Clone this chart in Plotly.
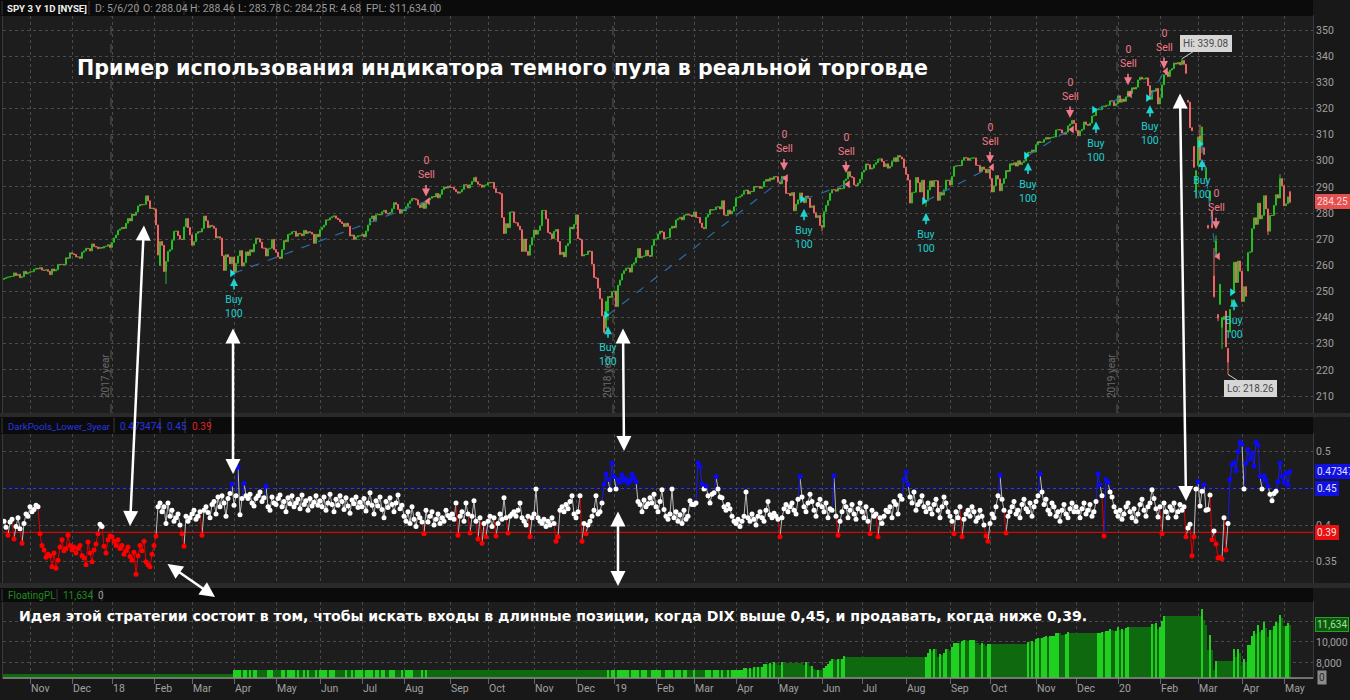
import numpy as np
import pandas as pd
import plotly.graph_objects as go

# ---------------- data ----------------
HOLIDAYS = ['2017-11-23', '2017-12-25', '2018-01-01', '2018-01-15', '2018-02-19', '2018-03-30',
            '2018-05-28', '2018-07-04', '2018-09-03', '2018-11-22', '2018-12-05', '2018-12-25',
            '2019-01-01', '2019-01-21', '2019-02-18', '2019-04-19', '2019-05-27', '2019-07-04',
            '2019-09-02', '2019-11-28', '2019-12-25', '2020-01-01', '2020-01-20', '2020-02-17',
            '2020-04-10']
FIRST_OPEN = 254.60

CLOSES = [
    254.95, 255.29, 255.47, 255.72, 255.79, 257.11, 256.11, 256.56, 255.29, 255.62, 257.71, 256.75, 257.15,
    257.49, 257.59, 258.45, 258.85, 258.67, 259.11, 258.17, 258.09, 258.33, 257.73, 256.44, 258.62, 257.86, 258.30, 260.36, 260.23, 260.36, 260.23, 262.87, 262.71, 264.82,
    264.42, 264.14, 263.19, 263.24, 262.71, 265.01, 265.51, 266.51, 266.38, 265.52, 268.20, 267.17, 267.03, 266.39, 266.86, 266.61, 267.19, 267.32, 267.87, 266.86,
    268.77, 270.47, 271.61, 273.42, 273.92, 274.54, 274.12, 276.12, 277.92, 276.97, 279.61, 279.14, 280.41, 282.69, 283.29, 283.18, 283.30, 286.58, 284.68, 281.76, 281.90,
    281.58, 275.45, 263.93, 269.13, 267.67, 257.63, 261.50, 265.34, 266.00, 269.59, 273.03, 273.11, 271.40, 270.05, 269.87, 274.71, 277.90, 274.43, 271.65,
    267.70, 269.08, 272.19, 272.88, 272.78, 274.10, 278.87, 277.04, 274.39, 275.30, 275.00, 274.20, 270.49, 270.95, 270.43, 263.67, 258.05, 264.08, 263.20, 260.60, 263.15,
    257.47, 260.77, 263.56, 265.64, 259.72, 261.00, 265.15, 263.76, 265.93, 265.15, 268.19, 270.39, 270.19, 268.89, 266.61, 266.57, 263.56, 266.31, 266.56, 269.92, 266.02,
    264.98, 263.20, 262.62, 266.02, 269.50, 269.04, 271.85, 272.02, 272.85, 272.98, 271.10, 272.24, 272.01, 271.33, 273.37, 272.15, 272.88, 272.61, 271.95, 268.41, 271.88, 270.94,
    273.60, 274.58, 275.40, 277.38, 277.37, 278.19, 278.56, 278.92, 278.03, 277.56, 276.65, 275.98, 274.83, 276.12, 274.96, 271.26, 271.61, 269.88, 270.89, 271.28, 271.30,
    271.86, 270.90, 273.11, 275.42, 277.90, 278.90, 276.86, 279.37, 279.59, 279.34, 280.47, 281.06, 279.93, 279.68, 280.20, 281.61, 284.01, 283.34, 281.42, 279.95, 281.33,
    280.86, 282.39, 283.60, 284.64, 285.58, 285.46, 285.07, 283.16, 282.10, 283.90, 281.78, 284.06, 285.06, 285.67, 286.34, 286.17, 287.51, 285.83, 287.15, 288.99, 289.99, 289.57, 290.31,
    289.84, 289.81, 289.03, 288.16, 287.60, 288.10, 289.05, 290.88, 290.75, 289.58, 290.90, 292.11, 293.58, 291.99, 291.02, 290.75, 289.88, 290.69, 290.72,
    291.73, 291.56, 291.72, 289.44, 287.82, 287.82, 287.40, 278.30, 272.17, 275.95, 274.40, 280.40, 280.45, 276.40, 276.25, 275.01, 273.61, 265.32, 270.08, 265.33, 263.86, 267.77, 270.63,
    273.51, 271.89, 273.39, 275.12, 281.01, 281.01, 277.76, 272.57, 272.06, 270.20, 273.02, 273.73, 269.10, 264.12, 265.02, 263.25, 267.50, 268.40, 274.58, 273.98, 275.65,
    279.30, 270.25, 269.84, 263.57, 264.07, 264.13, 265.46, 265.37, 260.47, 255.36, 255.08, 251.26, 247.17, 240.70, 234.34, 246.18, 248.07, 247.75, 249.92,
    250.18, 244.21, 252.39, 254.38, 256.77, 257.97, 258.88, 258.98, 257.40, 260.35, 260.98, 262.96, 266.46, 262.86, 263.41, 263.55, 265.78, 263.76, 263.41, 267.58, 269.93,
    270.06, 271.96, 273.10, 272.74, 270.14, 270.47, 270.62, 274.10, 274.99, 274.38, 277.37, 277.85, 278.41, 277.42, 279.14, 279.52, 279.32, 279.20, 278.68,
    280.42, 278.36, 278.27, 276.18, 274.46, 274.01, 278.44, 279.49, 281.34, 281.16, 281.31, 282.33, 282.40, 281.55, 284.73, 279.25, 279.04, 281.12, 279.65, 280.71, 282.48,
    285.83, 285.97, 286.42, 287.18, 288.57, 288.79, 287.31, 288.29, 288.21, 290.16, 289.97, 290.16, 289.45, 290.02, 292.10, 292.88, 292.23, 293.41, 292.91, 294.02, 293.87,
    291.81, 291.18, 294.03, 292.82, 287.53, 287.51, 286.66, 287.85, 280.86, 283.40, 285.06, 287.70, 285.84, 283.95, 286.51, 285.63, 282.14, 282.78, 280.15, 278.27, 279.03, 275.27,
    274.57, 280.53, 282.96, 284.80, 287.65, 288.97, 288.90, 288.39, 289.58, 289.26, 289.37, 292.40, 293.06, 295.86, 294.00, 293.64, 290.76, 290.47, 291.50, 293.00,
    295.66, 296.43, 298.80, 298.46, 296.82, 297.19, 298.61, 299.31, 300.65, 300.75, 299.71, 297.74, 298.83, 297.17, 297.90, 299.73, 301.18, 299.69, 302.01, 301.46, 300.72, 297.43,
    294.84, 292.62, 283.82, 287.80, 287.97, 293.62, 291.62, 288.07, 292.55, 283.90, 284.65, 288.85, 292.33, 290.09, 292.45, 292.36, 284.85, 288.00, 286.87, 288.89, 292.58, 292.45,
    290.74, 294.04, 297.82, 298.05, 298.20, 298.13, 300.25, 301.29, 301.09, 300.16, 300.93, 301.08, 301.10, 298.28, 298.21, 295.87, 297.62, 296.77, 295.40, 296.77,
    293.24, 288.06, 290.42, 294.35, 293.08, 288.53, 291.27, 293.24, 296.28, 295.95, 298.88, 298.40, 299.28, 297.97, 299.99, 298.58, 299.33, 299.88, 301.60, 303.30, 303.21, 304.14, 303.33,
    306.14, 307.37, 307.03, 307.10, 308.18, 308.94, 308.35, 308.83, 309.00, 309.10, 311.79, 311.91, 311.81, 310.60, 310.14, 310.96, 313.37, 314.08, 315.48, 314.31,
    311.64, 309.55, 311.46, 312.02, 314.87, 313.88, 313.53, 314.42, 317.13, 317.32, 319.50, 319.57, 319.59, 320.90, 320.73, 321.22, 321.23, 322.94, 322.86, 321.08, 321.86,
    324.87, 322.41, 323.64, 322.73, 324.45, 326.65, 325.71, 327.95, 327.45, 328.19, 330.92, 331.95, 331.30, 331.34, 331.72, 328.77, 323.50, 326.89, 326.62, 327.68, 321.73,
    324.12, 329.06, 332.86, 333.98, 332.20, 334.68, 335.26, 337.42, 337.06, 337.60, 336.73, 338.34, 336.95, 333.48, 322.42, 312.65, 311.50, 297.51, 296.26,
    309.09, 300.24, 312.86, 302.46, 297.46, 274.23, 288.42, 274.36, 248.11, 269.32, 239.85, 252.80, 240.00, 240.51, 228.80, 222.95, 243.15, 246.79, 261.20, 253.42, 261.65, 257.75,
    246.15, 251.83, 248.19, 264.86, 265.13, 274.03, 278.20, 275.66, 283.79, 277.76, 279.10, 286.64, 281.59, 273.04, 279.10, 279.08, 282.97, 287.05, 285.73, 293.21, 290.48,
    282.79, 283.57, 286.19, 284.25,
]

# opens that gapped away from the previous close
OPEN_MARKS = {'2018-02-06': 259.94, '2018-12-26': 235.97, '2018-12-27': 242.57, '2020-02-24': 323.14,
              '2020-02-27': 305.46, '2020-02-28': 288.70, '2020-03-02': 298.21, '2020-03-03': 309.50,
              '2020-03-04': 306.12, '2020-03-05': 304.98, '2020-03-06': 293.15, '2020-03-09': 275.30,
              '2020-03-10': 284.64, '2020-03-11': 280.70, '2020-03-12': 255.94, '2020-03-13': 263.09,
              '2020-03-16': 241.18, '2020-03-17': 245.04, '2020-03-18': 236.25, '2020-03-19': 239.25,
              '2020-03-20': 242.53, '2020-03-23': 228.19, '2020-03-24': 234.42, '2020-03-25': 244.87,
              '2020-03-26': 249.52, '2020-04-06': 257.84, '2020-05-06': 288.04}
HIGH_MARKS = {'2018-01-26': 286.63, '2018-09-21': 293.94, '2019-07-26': 302.23, '2020-02-19': 339.08,
              '2020-03-04': 313.10, '2020-03-13': 271.48, '2020-04-29': 294.88, '2020-03-10': 288.52,
              '2020-03-12': 266.66, '2020-03-03': 313.84, '2020-05-06': 288.46}
LOW_MARKS = {'2018-02-09': 252.92, '2018-12-24': 234.27, '2018-12-27': 238.96, '2019-06-03': 273.00,
             '2019-08-15': 282.40, '2020-03-04': 303.00, '2020-03-12': 247.68, '2020-03-16': 238.60,
             '2020-03-18': 228.02, '2020-03-23': 218.26, '2020-04-21': 271.60, '2020-02-28': 285.54,
             '2020-05-06': 283.78}

# DIX (dark index), in thousandths
DIX_MILLI = [
    405, 397, 386, 404, 408, 381, 398, 410, 395, 375, 402, 415, 412,
    425, 418, 421, 427, 425, 388, 372, 366, 356, 360, 358, 343, 362, 341, 352, 370, 380, 365, 368, 386, 372,
    366, 370, 362, 368, 372, 358, 355, 346, 377, 362, 350, 366, 374, 388, 401, 398, 371, 362, 380, 385,
    384, 378, 372, 380, 368, 372, 360, 365, 370, 357, 352, 363, 333, 358, 372, 365, 378, 350, 346, 343, 360,
    372, 385, 425, 430, 418, 425, 402, 430, 412, 420, 405, 410, 415, 400, 388, 371, 412, 405, 410,
    415, 420, 408, 412, 418, 386, 420, 425, 417, 410, 428, 432, 415, 438, 425, 440, 430, 412, 436, 443, 456,
    427, 440, 479, 414, 436, 457, 440, 436, 442, 430, 426, 436, 440, 445, 432, 437, 453, 425, 420, 438, 430,
    428, 436, 441, 425, 432, 418, 437, 429, 440, 425, 430, 435, 422, 441, 428, 433, 420, 436, 426, 431, 440, 427,
    433, 425, 438, 420, 430, 442, 428, 418, 435, 427, 440, 432, 421, 437, 426, 416, 434, 429, 438, 424, 431,
    425, 436, 419, 430, 444, 427, 415, 433, 426, 438, 421, 410, 432, 424, 437, 428, 418, 430, 441, 422, 427,
    412, 405, 418, 402, 425, 408, 398, 415, 410, 404, 388, 420, 404, 412, 418, 400, 408, 415, 402, 410, 405, 420, 413,
    410, 415, 408, 430, 386, 412, 418, 405, 430, 415, 389, 412, 433, 405, 381, 410, 375, 402, 384,
    405, 412, 398, 410, 385, 402, 415, 408, 437, 410, 389, 412, 415, 418, 412, 420, 430, 410, 405, 400, 412, 384, 410,
    415, 449, 410, 405, 402, 408, 398, 405, 400, 410, 402, 378, 384, 420, 425, 418, 428, 422, 432, 440, 415,
    410, 418, 440, 378, 402, 388, 400, 405, 412, 420, 440, 415, 418, 430, 456, 470, 462, 448, 484,
    466, 449, 462, 458, 468, 461, 463, 457, 460, 469, 464, 459, 432, 428, 418, 434, 425, 429, 437, 430, 442,
    425, 418, 432, 448, 421, 412, 408, 415, 449, 410, 418, 405, 414, 402, 420, 408, 412, 433, 428,
    428, 430, 485, 479, 456, 449, 453, 440, 430, 442, 444, 466, 449, 438, 437, 425, 420, 428, 422, 412, 405,
    402, 408, 398, 405, 412, 445, 410, 405, 415, 408, 400, 412, 418, 410, 405, 420, 432, 414, 410, 416, 412,
    408, 384, 410, 422, 428, 418, 425, 430, 420, 415, 435, 466, 438, 425, 418, 430, 442, 432, 420, 412, 428, 435,
    425, 418, 430, 410, 422, 420, 467, 412, 386, 405, 418, 432, 425, 410, 420, 428, 415, 408, 422, 430,
    418, 410, 425, 405, 388, 420, 412, 415, 384, 410, 402, 412, 420, 418, 425, 410, 432, 428, 415, 440, 435, 462,
    472, 455, 438, 430, 445, 420, 428, 432, 440, 425, 418, 430, 422, 415, 428, 435, 420, 410, 425, 438, 430, 418,
    412, 405, 388, 418, 410, 425, 384, 408, 415, 420, 412, 425, 418, 405, 410, 420, 412, 400, 385, 378,
    402, 415, 410, 425, 440, 468, 435, 420, 389, 412, 418, 425, 432, 415, 420, 410, 428, 435, 422, 418, 430, 412, 425,
    432, 440, 470, 445, 428, 435, 420, 415, 430, 425, 412, 418, 405, 420, 428, 415, 410, 422, 430, 418,
    425, 418, 410, 422, 430, 415, 420, 428, 412, 418, 432, 470, 455, 440, 385, 462, 458, 445, 438, 425, 418,
    412, 420, 408, 415, 425, 430, 418, 410, 422, 405, 415, 428, 435, 420, 412, 425, 430, 448, 436, 422, 411,
    425, 388, 430, 418, 410, 425, 420, 430, 411, 418, 428, 420, 425, 384, 396, 401, 358, 384, 449,
    459, 426, 446, 455, 420, 421, 441, 380, 392, 374, 355, 356, 354, 410, 366, 402, 462, 482, 485, 474, 500, 513,
    510, 449, 484, 503, 490, 497, 480, 513, 509, 466, 449, 467, 461, 453, 442, 433, 443, 446, 459, 484, 466,
    458, 471, 455, 473,
]
DIX_UPPER, DIX_LOWER = 0.45, 0.39
DIX_LAST_LABEL = '0.47347'

# trades: (buy date, buy price, sell date, sell price)
TRADES = [
    ('2018-04-02', 257.0, '2018-08-16', 284.5),
    ('2018-12-27', 241.0, '2019-05-06', 293.4),
    ('2019-05-20', 285.3, '2019-06-19', 291.0),
    ('2019-08-15', 284.6, '2019-10-01', 297.5),
    ('2019-10-28', 302.0, '2019-11-26', 312.0),
    ('2019-12-16', 319.5, '2020-01-09', 325.5),
    ('2020-01-27', 324.0, '2020-02-05', 334.2),
    ('2020-03-04', 306.4, '2020-03-13', 263.5),
    ('2020-03-26', 249.71, None, None),
]
SHARES = 100

PRICE_TICKS = list(range(210, 351, 10))
DIX_TICKS = [0.35, 0.4, 0.45, 0.5]
DIX_TICK_TEXT = ['0.35', '0.4', '', '0.5']
FPL_TICKS = [8000, 10000, 12000]
FPL_TICK_TEXT = ['8,000', '10,000', '']

# ---------------- geometry helpers ----------------
W, H = 1350, 700
PL, PR = 3, 1313


def px_x(p):
    return (p - PL) / (PR - PL)


def px_y(p):
    return 1 - p / H


dates = pd.bdate_range('2017-10-13', '2020-05-06')
dates = dates[~dates.isin(pd.to_datetime(HOLIDAYS))]
n = min(len(dates), len(CLOSES), len(DIX_MILLI))
dates = dates[:n]
closes = np.array(CLOSES[:n])
k = np.arange(n)
pos = {d.strftime('%Y-%m-%d'): i for i, d in enumerate(dates)}

opens = np.concatenate([[FIRST_OPEN], closes[:-1]])
for d, v in OPEN_MARKS.items():
    if d in pos:
        opens[pos[d]] = v
highs = np.maximum(opens, closes)
lows = np.minimum(opens, closes)
for d, v in HIGH_MARKS.items():
    if d in pos:
        highs[pos[d]] = max(highs[pos[d]], v)
for d, v in LOW_MARKS.items():
    if d in pos:
        lows[pos[d]] = min(lows[pos[d]], v)

dix = np.array(DIX_MILLI[:n]) / 1000.0

# floating P/L from trades
buys = {pos[b]: bp for b, bp, s, sp in TRADES}
sells = {pos[s]: sp for b, bp, s, sp in TRADES if s}
fpl = np.zeros(n)
realized, entry = 0.0, None
for i in range(n):
    if i in buys:
        entry = buys[i]
    if i in sells and entry is not None:
        realized += (sells[i] - entry) * SHARES
        entry = None
    fpl[i] = realized + ((closes[i] - entry) * SHARES if entry is not None else 0.0)

FPL_MIN, FPL_MAX = 6570, 13810
unit = (678 - 602) / (FPL_MAX - FPL_MIN)
fpl_disp = np.where(fpl >= FPL_MIN + 8 / unit, fpl,
                    np.where(fpl > 0, FPL_MIN + 8 / unit, FPL_MIN + 4 / unit))
fpl_col = ['#0f6a0f'] + ['#20d020' if fpl[i] > fpl[i - 1] else '#0f6a0f' for i in range(1, n)]

# month ticks
month_k, month_lbl = [], []
for i in range(1, n):
    if dates[i].month != dates[i - 1].month:
        month_k.append(i)
        month_lbl.append(dates[i].strftime('%y') if dates[i].month == 1 else dates[i].strftime('%b'))

# ---------------- colours ----------------
BG = '#1d1d1d'
PAPER = '#181818'
GRID = '#4a4a4a'
TICK = '#a0a0a0'
UP = '#22c022'
DOWN = '#f06464'
CYAN = '#1fd0d0'
PINK = '#f07a8a'

fig = go.Figure()

# price
fig.add_trace(go.Candlestick(
    x=k, open=opens, high=highs, low=lows, close=closes, xaxis='x', yaxis='y',
    increasing=dict(line=dict(color=UP, width=1), fillcolor=BG),
    decreasing=dict(line=dict(color=DOWN, width=1), fillcolor=DOWN),
    whiskerwidth=0, hoverinfo='skip', showlegend=False))

# trade connection lines and fill markers
for b, bp, s, sp in TRADES:
    if s:
        fig.add_trace(go.Scatter(x=[pos[b], pos[s]], y=[bp, sp], mode='lines', xaxis='x', yaxis='y',
                                 line=dict(color='#2b6ca8', width=1.2, dash='dash'), hoverinfo='skip',
                                 showlegend=False))
fig.add_trace(go.Scatter(x=[pos[b] - 1 for b, bp, s, sp in TRADES], y=[bp for b, bp, s, sp in TRADES],
                         mode='markers', xaxis='x', yaxis='y', hoverinfo='skip', showlegend=False,
                         marker=dict(symbol='triangle-right', size=7, color='#19e3e3')))
fig.add_trace(go.Scatter(x=[pos[s] + 1 for b, bp, s, sp in TRADES if s], y=[sp for b, bp, s, sp in TRADES if s],
                         mode='markers', xaxis='x', yaxis='y', hoverinfo='skip', showlegend=False,
                         marker=dict(symbol='triangle-left', size=7, color=PINK)))

# DIX
cls = np.where(dix > DIX_UPPER, 'b', np.where(dix < DIX_LOWER, 'r', 'w'))
line_cols = {'w': '#bdbdbd', 'r': '#e00000', 'b': '#1a1ae6'}
dot_cols = {'w': '#ffffff', 'r': '#ff0000', 'b': '#0a0af5'}
for c in ['w', 'r', 'b']:
    xs, ys = [], []
    for i in range(1, n):
        if cls[i] == c:
            xs += [k[i - 1], k[i], None]
            ys += [dix[i - 1], dix[i], None]
    fig.add_trace(go.Scatter(x=xs, y=ys, mode='lines', xaxis='x2', yaxis='y2', hoverinfo='skip',
                             line=dict(color=line_cols[c], width=1), showlegend=False))
fig.add_trace(go.Scatter(x=k, y=dix, mode='markers', xaxis='x2', yaxis='y2', hoverinfo='skip', showlegend=False,
                         marker=dict(size=5, color=[dot_cols[c] for c in cls], line=dict(width=0))))

# Floating PL
fig.add_trace(go.Bar(x=k, y=fpl_disp, xaxis='x3', yaxis='y3', marker=dict(color=fpl_col, line=dict(width=0)),
                     hoverinfo='skip', showlegend=False))

# ---------------- axes ----------------
xcommon = dict(range=[-0.5, 654.5], tickvals=month_k, ticktext=month_lbl, showgrid=True, gridcolor=GRID,
               griddash='dot', gridwidth=1, zeroline=False, showline=True, linecolor='#3a3a3a', mirror=True,
               automargin=False, fixedrange=True)
fig.update_layout(
    xaxis=dict(xcommon, domain=[0, 1], anchor='y', showticklabels=False, ticks='', rangeslider=dict(visible=False)),
    xaxis2=dict(xcommon, domain=[0, 1], anchor='y2', matches='x', showticklabels=False, ticks=''),
    xaxis3=dict(xcommon, domain=[0, 1], anchor='y3', matches='x', showticklabels=True, ticks='outside',
                ticklen=5, tickcolor='#666666', ticklabelposition='outside right',
                tickfont=dict(color=TICK, size=10.5, family='Roboto')),
    yaxis=dict(domain=[px_y(413), px_y(16)], anchor='x', side='right', range=[203.5, 355.4], tickvals=PRICE_TICKS,
               showgrid=True, gridcolor=GRID, griddash='dot', zeroline=False, showline=True, linecolor='#3a3a3a',
               mirror=True, ticks='', tickfont=dict(color=TICK, size=10.5, family='Roboto'), automargin=False),
    yaxis2=dict(domain=[px_y(583), px_y(434)], anchor='x2', side='right', range=[0.321, 0.524], tickvals=DIX_TICKS,
                ticktext=DIX_TICK_TEXT, showgrid=True, gridcolor=GRID, griddash='dot', zeroline=False,
                showline=True, linecolor='#3a3a3a', mirror=True, ticks='',
                tickfont=dict(color=TICK, size=10.5, family='Roboto'), automargin=False),
    yaxis3=dict(domain=[px_y(678), px_y(602)], anchor='x3', side='right', range=[FPL_MIN, FPL_MAX],
                tickvals=FPL_TICKS, ticktext=FPL_TICK_TEXT, showgrid=True, gridcolor=GRID, griddash='dot',
                zeroline=False, showline=True, linecolor='#3a3a3a', mirror=True, ticks='',
                tickfont=dict(color=TICK, size=10.5, family='Roboto'), automargin=False),
    width=W, height=H, margin=dict(l=PL, r=W - PR, t=0, b=0), autosize=False,
    paper_bgcolor=PAPER, plot_bgcolor=BG, bargap=0, template='none', showlegend=False,
    font=dict(family='Roboto', color=TICK),
)

# ---------------- shapes ----------------
shapes = []


def band(y0, y1, color, x0=0, x1=W):
    shapes.append(dict(type='rect', xref='paper', yref='paper', x0=px_x(x0), x1=px_x(x1), y0=px_y(y1),
                       y1=px_y(y0), fillcolor=color, line=dict(width=0), layer='above'))


band(0, 16, '#0b0b0b', 0, PR)
band(413, 417, '#2a2a2a')
band(417, 434, '#0b0b0b', 0, PR)
band(583, 588, '#2a2a2a')
band(588, 602, '#0b0b0b', 0, PR)


def vsep(xp, y0, y1):
    shapes.append(dict(type='line', xref='paper', yref='paper', x0=px_x(xp), x1=px_x(xp), y0=px_y(y0),
                       y1=px_y(y1), line=dict(color='#3a3a3a', width=1), layer='above'))


for xp in [2, 89, 137, 184, 232, 277, 323, 360, 435]:
    vsep(xp, 1, 15)
for xp in [2, 114, 160, 185, 210]:
    vsep(xp, 418, 433)
for xp in [2, 57, 92, 102]:
    vsep(xp, 589, 601)

# year separators
for d in ['2018-01-02', '2019-01-02', '2020-01-02']:
    shapes.append(dict(type='line', xref='x', yref='y domain', x0=pos[d] - 0.5, x1=pos[d] - 0.5, y0=0, y1=1,
                       line=dict(color='#5a5a5a', width=1, dash='dash'), layer='below'))
# DIX thresholds
for v, c in [(DIX_UPPER, '#0000ff'), (DIX_LOWER, '#ff0000')]:
    shapes.append(dict(type='line', xref='x2 domain', yref='y2', x0=0, x1=1, y0=v, y1=v,
                       line=dict(color=c, width=1), layer='below'))
# zero plot of FloatingPL pinned at bottom
shapes.append(dict(type='line', xref='paper', yref='paper', x0=0, x1=1, y0=px_y(678), y1=px_y(678),
                   line=dict(color='#8a8a8a', width=1.5), layer='above'))
fig.update_layout(shapes=shapes)

# ---------------- annotations ----------------
ann = []


def text_px(t, xp, yp, size=10.5, color=TICK, anchor='left', family='Roboto'):
    ann.append(dict(text=t, x=px_x(xp), y=px_y(yp), xref='paper', yref='paper', xanchor=anchor, yanchor='middle',
                    showarrow=False, font=dict(size=size, color=color, family=family)))


text_px('<b>SPY 3 Y 1D [NYSE]</b>', 5, 8, 9.6, '#f0f0f0')
for t, xp in [('D: 5/6/20', 93), ('O: 288.04', 141), ('H: 288.46', 188), ('L: 283.78', 236),
              ('C: 284.25', 281), ('R: 4.68', 327), ('FPL: $11,634.00', 364)]:
    text_px(t, xp, 8, 10.5, '#9a9a9a')
text_px('DarkPools_Lower_3year', 6, 426, 9.6, '#2a36e0')
text_px('0.473474', 118, 426, 10, '#2a36e0')
text_px('0.45', 165, 426, 10, '#2a36e0')
text_px('0.39', 190, 426, 10, '#e02020')
text_px('FloatingPL', 6, 595, 10, '#1f8a1f')
text_px('11,634', 61, 595, 10, '#1f8a1f')
text_px('0', 96, 595, 10, '#9a9a9a')

# titles
text_px('<b>Пример использования индикатора темного пула в реальной торговде</b>', 75, 68, 20.6, '#ffffff',
        family='DejaVu Sans')
text_px('<b>Идея этой стратегии состоит в том, чтобы искать входы в длинные позиции, когда DIX выше 0,45, '
        'и продавать, когда ниже 0,39.</b>', 17, 616, 14.1, '#ffffff', family='DejaVu Sans')

# year labels
for d, t in [('2018-01-02', '2017 year'), ('2019-01-02', '2018 year'), ('2020-01-02', '2019 year')]:
    ann.append(dict(text=t, x=pos[d] - 0.5, y=px_y(376), xref='x', yref='paper', xshift=-6, textangle=-90,
                    showarrow=False, font=dict(size=10, color='#6a6a6a', family='Roboto')))

# buy / sell markers
for b, bp, s, sp in TRADES:
    i = pos[b]
    ann.append(dict(x=i, y=lows[i], xref='x', yref='y', text='', showarrow=True, ax=0, ay=13, yshift=-6,
                    arrowhead=2, arrowsize=1, arrowwidth=1.6, arrowcolor=CYAN))
    ann.append(dict(x=i, y=lows[i], xref='x', yref='y', text='Buy<br>100', showarrow=False, yanchor='top',
                    yshift=-19, font=dict(size=10.5, color=CYAN, family='Roboto')))
    if s:
        j = pos[s]
        ann.append(dict(x=j, y=highs[j], xref='x', yref='y', text='', showarrow=True, ax=0, ay=-13, yshift=6,
                        arrowhead=2, arrowsize=1, arrowwidth=1.6, arrowcolor=PINK))
        ann.append(dict(x=j, y=highs[j], xref='x', yref='y', text='0<br>Sell', showarrow=False, yanchor='bottom',
                        yshift=19, font=dict(size=10.5, color=PINK, family='Roboto')))

# Hi / Lo callouts
ih = int(np.argmax(highs))
il = int(np.argmin(lows))
ann.append(dict(x=ih, y=highs[ih], xref='x', yref='y', text='Hi: %.2f' % highs[ih], showarrow=True, ax=24, ay=-15,
                arrowhead=0, arrowwidth=1, arrowcolor='#cfcfcf', bgcolor='#d6d6d6', bordercolor='#d6d6d6',
                borderpad=2, font=dict(size=10, color='#4a4a4a', family='Roboto')))
ann.append(dict(x=il, y=lows[il], xref='x', yref='y', text='Lo: %.2f' % lows[il], showarrow=True, ax=22, ay=14,
                arrowhead=0, arrowwidth=1, arrowcolor='#cfcfcf', bgcolor='#d6d6d6', bordercolor='#d6d6d6',
                borderpad=2, font=dict(size=10, color='#4a4a4a', family='Roboto')))


# right-side value tags
def tag(t, yv, yref, bg, fg, border=None):
    ann.append(dict(text=t, x=1, y=yv, xref='paper', yref=yref, xanchor='left', yanchor='middle', xshift=2,
                    showarrow=False, bgcolor=bg, bordercolor=border or bg, borderpad=1,
                    font=dict(size=10, color=fg, family='Roboto')))


tag('%.2f' % closes[-1], closes[-1], 'y', '#e2504f', '#ffd9d9')
tag(DIX_LAST_LABEL, dix[-1], 'y2', '#1010e0', '#e0e0ff')
tag('0.45', DIX_UPPER, 'y2', '#1010e0', '#e0e0ff')
tag('0.39', DIX_LOWER, 'y2', '#e81010', '#ffe0e0')
tag('{:,.0f}'.format(fpl[-1]), fpl_disp[-1], 'y3', '#0d5a0d', '#9fe09f', '#2aa02a')
ann.append(dict(text='0', x=1, y=px_y(677), xref='paper', yref='paper', xanchor='left', yanchor='middle', xshift=4,
                showarrow=False, bgcolor='#8c8c8c', borderpad=1, font=dict(size=10, color='#2a2a2a')))


# hand-drawn white arrows (pixel positions on the screenshot)
def white_arrow(x_head, y_head, x_tail, y_tail):
    ann.append(dict(x=px_x(x_head), y=px_y(y_head), xref='paper', yref='paper', text='', showarrow=True,
                    ax=x_tail - x_head, ay=y_tail - y_head, arrowside='end+start', arrowhead=2, arrowsize=1.2,
                    arrowwidth=2.5, arrowcolor='#ffffff'))


white_arrow(130, 526, 144, 224)
white_arrow(233, 474, 233, 327)
white_arrow(624, 451, 623, 327)
white_arrow(618, 586, 618, 510)
white_arrow(215, 597, 166, 563)
white_arrow(1186, 501, 1180, 92)

fig.update_layout(annotations=ann)
fig.write_html('out.html', config={'displayModeBar': False},
               post_script="document.body.style.margin='0px';document.body.style.overflow='hidden';")
